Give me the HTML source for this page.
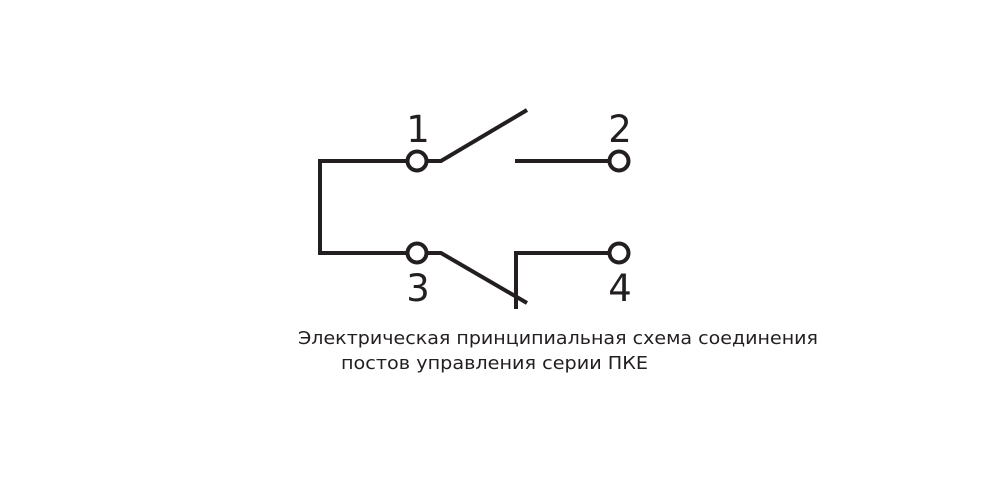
<!DOCTYPE html>
<html><head><meta charset="utf-8"><style>
html,body{margin:0;padding:0;background:#fff;width:1000px;height:500px;overflow:hidden}
</style></head><body>
<svg width="1000" height="500" viewBox="0 0 1000 500" xmlns="http://www.w3.org/2000/svg">
<g stroke="#231f20" stroke-width="4" fill="none">
<polyline points="407,161 320,161 320,253 407,253"/>
<circle cx="417" cy="161" r="9.5" fill="#fff"/>
<circle cx="619" cy="161" r="9.5" fill="#fff"/>
<circle cx="417" cy="253" r="9.5" fill="#fff"/>
<circle cx="619" cy="253" r="9.5" fill="#fff"/>
<polyline points="427,161 441,161 527,110"/>
<line x1="515" y1="161" x2="609" y2="161"/>
<polyline points="427,253 441,253 527,303"/>
<polyline points="516,309 516,253 609,253"/>
</g>
<g font-family="DejaVu Sans, sans-serif" font-size="37" fill="#231f20" text-anchor="middle">
<text x="418" y="142">1</text>
<text x="620" y="142">2</text>
<text x="418" y="301">3</text>
<text x="620" y="301">4</text>
</g>
<g font-family="DejaVu Sans, sans-serif" font-size="18" fill="#231f20">
<text x="298" y="344" textLength="520" lengthAdjust="spacingAndGlyphs">Электрическая принципиальная схема соединения</text>
<text x="341" y="369" textLength="307" lengthAdjust="spacingAndGlyphs">постов управления серии ПКЕ</text>
</g>
</svg>
</body></html>
